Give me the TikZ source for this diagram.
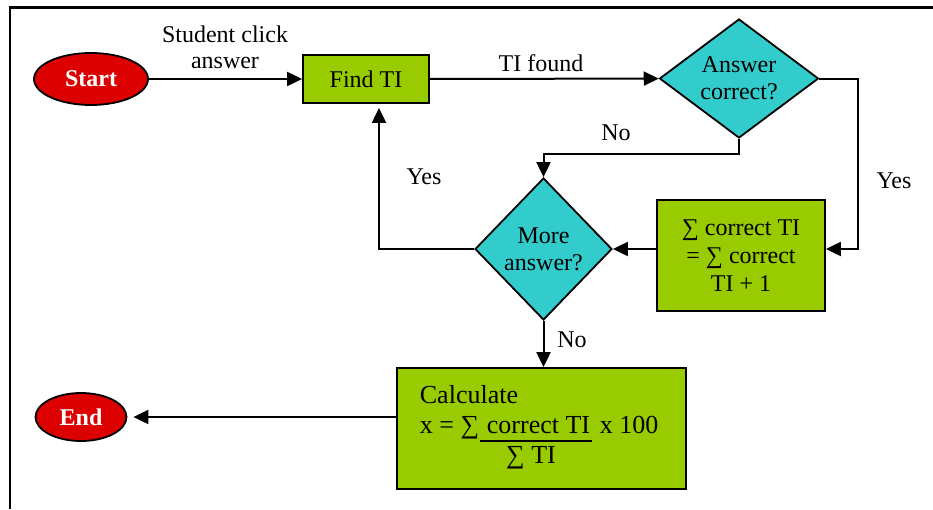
\documentclass[tikz,border=0pt]{standalone}
\usepackage{fontspec}
\setmainfont{Liberation Serif}
\usetikzlibrary{shapes.geometric,arrows.meta}
\definecolor{termred}{HTML}{DD0000}
\definecolor{procgreen}{HTML}{99CC00}
\definecolor{deccyan}{HTML}{33CCCC}
\begin{document}
\begin{tikzpicture}[x=1pt,y=-1pt,
  font=\fontsize{24}{27}\selectfont,
  line width=1.8pt,
  term/.style={ellipse, draw, fill=termred, text=white, font=\fontsize{24}{27}\selectfont\bfseries, inner sep=0pt},
  procbox/.style={rectangle, draw, fill=procgreen, inner sep=0pt, align=center},
  decbox/.style={diamond, draw, fill=deccyan, inner sep=0pt, align=center},
  lbl/.style={inner sep=0pt, anchor=base, align=center},
  txt/.style={inner sep=0pt, anchor=base west, font=\fontsize{26}{30}\selectfont},
  arr/.style={line width=2pt, -{Triangle[length=15pt,width=14pt]}}
]
\useasboundingbox (0,0) rectangle (933,509);

% outer frame (open on the right and bottom)
\draw[line width=2.5pt] (10,509) -- (10,7.5) -- (933,7.5);

% nodes
\node[term, minimum width=114pt, minimum height=52pt] (start) at (91,79) {Start};
\node[procbox, minimum width=126pt, minimum height=48pt] (find) at (366,79) {Find TI};
\node[decbox, minimum width=159pt, minimum height=119pt, shape aspect=1.34] (ans) at (739,78.5) {Answer\\correct?};
\node[decbox, minimum width=137pt, minimum height=142pt, shape aspect=0.965] (more) at (543.5,249) {More\\answer?};
\node[procbox, minimum width=168pt, minimum height=111pt, font=\fontsize{24}{28}\selectfont] (sum) at (741,255.5) {∑ correct TI\\= ∑ correct\\TI + 1};
\node[procbox, minimum width=289pt, minimum height=121pt] (calc) at (541.5,428.5) {};
\node[term, minimum width=91pt, minimum height=48pt] (end) at (81,417) {End};

% formula inside the calculation box
\node[txt] (calcA) at (419,403) {Calculate};
\node[txt] (calcB) at (419,433) {x = ∑};
\node[txt] (calcNum) at (486,433) {correct TI};
\node[txt] (calcC) at (599,433) {x 100};
\node[txt, anchor=base] (calcDen) at (531,463) {∑ TI};
\draw[line width=1.8pt] (480,441) -- (592,441);

% connectors
\draw[arr] (start) -- (find);
\draw[arr] (find) -- (ans);
\draw[arr] (ans.east) -- ++(39,0) |- (sum.east |- more.east);
\draw[arr] (sum.west |- more.east) -- (more.east);
\draw[arr] (ans.south) -- ++(0,15) -| (more.north);
\draw[arr, shorten >=4pt] (more.west) -| ([xshift=13pt]find.south);
\draw[arr] (more.south) -- (more.south |- calc.north);
\draw[arr, shorten >=6pt] (calc.west |- end.east) -- (end.east);

% connector labels
\node[lbl, font=\fontsize{24}{26}\selectfont] (lclick) at (225,68) {Student click\\answer};
\node[lbl] (lfound) at (541,71) {TI found};
\node[lbl] (lno1) at (616,140) {No};
\node[lbl] (lyes1) at (894,188) {Yes};
\node[lbl] (lyes2) at (424,184) {Yes};
\node[lbl] (lno2) at (572,347) {No};
\end{tikzpicture}
\end{document}
